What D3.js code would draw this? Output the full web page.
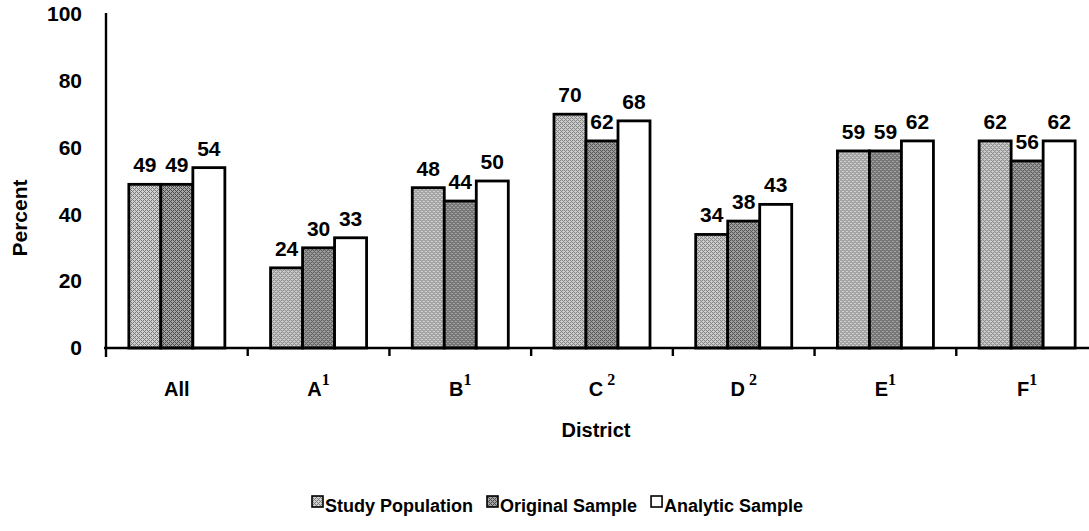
<!DOCTYPE html>
<html>
<head>
<meta charset="utf-8">
<script src="https://cdn.jsdelivr.net/npm/d3@7"></script>
<style>
  html, body { margin: 0; padding: 0; background: #fff; }
  svg { display: block; }
  text { font-family: "Liberation Sans", Arial, Helvetica, sans-serif; font-weight: bold; fill: #000; }
</style>
</head>
<body>
<svg id="chart" width="1089" height="531"></svg>
<script>
// District labels (letter + footnote marker) and the three series, in percent
const districts = ["All", "A", "B", "C", "D", "E", "F"];
const footnotes = ["", "1", "1", " 2", " 2", "1", "1"];
const series = ["Study Population", "Original Sample", "Analytic Sample"];
const studyPopulation = [49, 24, 48, 70, 34, 59, 62];
const originalSample  = [49, 30, 44, 62, 38, 59, 56];
const analyticSample  = [54, 33, 50, 68, 43, 62, 62];
const yTicks = [0, 20, 40, 60, 80, 100];

const values = [studyPopulation, originalSample, analyticSample];

const svg = d3.select("#chart");

// stippled fills, as in a halftone print: a 4x4 dither cell
const defs = svg.append("defs");
const dither = [
  [0, 1, 0, 1],
  [1, 0, 0, 0],
  [0, 1, 0, 1],
  [0, 0, 1, 0]
];
function stipple(id, base, dot) {
  const p = defs.append("pattern").attr("id", id)
    .attr("patternUnits", "userSpaceOnUse").attr("width", 4).attr("height", 4);
  p.append("rect").attr("width", 4).attr("height", 4).attr("fill", base);
  dither.forEach((row, r) => row.forEach((on, c) => {
    if (on) p.append("rect").attr("x", c).attr("y", r)
      .attr("width", 1).attr("height", 1).attr("fill", dot);
  }));
}
stipple("fillStudy", "#d0d0d0", "#7a7a7a");
stipple("fillOriginal", "#a4a4a4", "#4a4a4a");
const fills = ["url(#fillStudy)", "url(#fillOriginal)", "#ffffff"];

const y = d3.scaleLinear().domain([0, 100]).range([348, 14]);
const x = d3.scaleBand().domain(districts).range([106, 1098]).padding(0);
const xs = d3.scaleBand().domain(series).range([0, x.bandwidth()])
  .paddingInner(0).paddingOuter(0.714);

// bars
const groups = svg.append("g").selectAll("g")
  .data(districts)
  .join("g")
  .attr("transform", d => `translate(${x(d)},0)`);

groups.selectAll("rect")
  .data((d, i) => series.map((s, k) => ({ s, k, v: values[k][i] })))
  .join("rect")
  .attr("x", d => xs(d.s))
  .attr("y", d => y(d.v))
  .attr("width", xs.bandwidth())
  .attr("height", d => y(0) - y(d.v))
  .attr("fill", d => fills[d.k])
  .attr("stroke", "#000")
  .attr("stroke-width", 2.8);

// value labels
groups.selectAll("text.val")
  .data((d, i) => series.map((s, k) => ({ s, k, v: values[k][i] })))
  .join("text")
  .attr("class", "val")
  .attr("x", d => xs(d.s) + xs.bandwidth() / 2)
  .attr("y", d => y(d.v) - 12)
  .attr("text-anchor", "middle")
  .style("font-size", "21px")
  .text(d => d.v);

// y axis
const yAxis = svg.append("g")
  .attr("transform", `translate(${x.range()[0]},0)`)
  .call(d3.axisLeft(y).tickValues(yTicks).tickSize(0).tickPadding(24));
yAxis.select(".domain").attr("stroke", "#000").attr("stroke-width", 2.4)
  .attr("d", `M0,${y(100) - 1}V${y(0) + 9}`);
yAxis.selectAll(".tick text")
  .style("font-family", "'Liberation Sans', Arial, sans-serif")
  .style("font-weight", "bold")
  .style("font-size", "21px")
  .attr("fill", "#000");

// x axis line and ticks at district boundaries
svg.append("line")
  .attr("x1", x.range()[0] - 2).attr("x2", 1089)
  .attr("y1", y(0)).attr("y2", y(0))
  .attr("stroke", "#000").attr("stroke-width", 2.4);
svg.append("g").selectAll("line")
  .data(districts.slice(1))
  .join("line")
  .attr("x1", d => x(d)).attr("x2", d => x(d))
  .attr("y1", y(0)).attr("y2", y(0) + 8)
  .attr("stroke", "#000").attr("stroke-width", 2.4);

// district labels with superscript footnote markers
const labels = svg.append("g").selectAll("text")
  .data(districts)
  .join("text")
  .attr("x", d => x(d) + x.bandwidth() / 2)
  .attr("y", 396)
  .attr("text-anchor", "middle")
  .style("font-size", "20px");
labels.append("tspan").text(d => d);
labels.append("tspan")
  .attr("dy", -11)
  .style("font-family", "'Liberation Serif', 'Times New Roman', serif")
  .style("font-size", "16px")
  .text((d, i) => footnotes[i]);

// axis titles
svg.append("text")
  .attr("x", 596).attr("y", 437)
  .attr("text-anchor", "middle")
  .style("font-size", "20px")
  .text("District");
svg.append("text")
  .attr("transform", "translate(27,218) rotate(-90)")
  .attr("text-anchor", "middle")
  .style("font-size", "21px")
  .text("Percent");

// legend
const legend = svg.append("g");
let lx = 312;
series.forEach((s, k) => {
  legend.append("rect")
    .attr("x", lx).attr("y", 496)
    .attr("width", 11).attr("height", 11)
    .attr("fill", fills[k]).attr("stroke", "#000").attr("stroke-width", 1.6);
  const t = legend.append("text")
    .attr("x", lx + 13).attr("y", 512)
    .style("font-size", "18px")
    .text(s);
  lx += 13 + t.node().getComputedTextLength() + 14;
});
</script>
</body>
</html>
